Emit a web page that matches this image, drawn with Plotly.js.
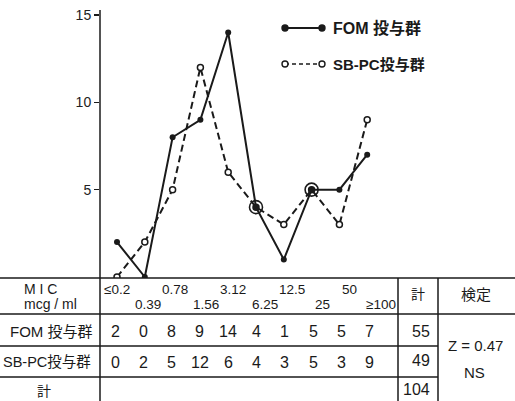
<!DOCTYPE html>
<html>
<head>
<meta charset="utf-8">
<script src="https://cdn.plot.ly/plotly-3.0.1.min.js"></script>
<style>html,body{margin:0;padding:0;background:#fff;}#chart{width:515px;height:401px;}</style>
</head>
<body>
<div id="chart"></div>
<script>
// ---- data ----
const categories = ['≤0.2','0.39','0.78','1.56','3.12','6.25','12.5','25','50','≥100'];
const fom  = [2,0,8,9,14,4,1,5,5,7];
const sbpc = [0,2,5,12,6,4,3,5,3,9];
const seriesNames = ['FOM 投与群','SB-PC投与群'];
const yTicks = [5,10,15];
const rowHeaderMIC = ['M I C','mcg / ml'];
const totalLabel = '計';
const testLabel = '検定';
const testResult = ['Z = 0.47','NS'];

// ---- helpers (pixel -> paper) ----
const W = 515, H = 401;
const px = x => x / W;
const py = y => 1 - y / H;
const idx = categories.map((_, i) => i);
const sum = a => a.reduce((s, v) => s + v, 0);
const INK = '#1a1a1a';
const FONT = 'Liberation Sans, Arial, Noto Sans CJK JP, sans-serif';
const CJK = 'Noto Sans CJK JP, Liberation Sans, sans-serif';

const eqX = [], eqY = [];
idx.forEach(i => { if (fom[i] === sbpc[i]) { eqX.push(i); eqY.push(fom[i]); } });

const traces = [
  {x: idx, y: sbpc, type: 'scatter', mode: 'lines+markers', name: seriesNames[1],
   line: {color: INK, width: 2, dash: '7px,4px'},
   marker: {symbol: 'circle', size: 6, color: '#fff', line: {color: INK, width: 1.5}}},
  {x: idx, y: fom, type: 'scatter', mode: 'lines+markers', name: seriesNames[0],
   line: {color: INK, width: 2},
   marker: {symbol: 'circle', size: 6, color: INK}},
  {x: eqX, y: eqY, type: 'scatter', mode: 'markers', showlegend: false, hoverinfo: 'skip',
   marker: {symbol: 'circle-open', size: 13, color: INK, line: {color: INK, width: 1.6}}}
];

const shapes = [];
const line = (x0, y0, x1, y1, extra) => shapes.push(Object.assign(
  {type: 'line', xref: 'paper', yref: 'paper', x0: px(x0), y0: py(y0), x1: px(x1), y1: py(y1),
   line: {color: INK, width: 1.5}}, extra || {}));
// y axis line running through table
line(100, 10, 100, 401);
// table lines
line(0, 278, 515, 278);
line(0, 314, 515, 314);
line(0, 346, 438, 346);
line(0, 377, 438, 377);
line(398, 278, 398, 401);
line(438, 278, 438, 401);
// legend
line(285, 28, 322, 28, {line: {color: INK, width: 2}});
line(285, 64, 322, 64, {line: {color: INK, width: 1.6, dash: '4px,3px'}});
const dot = (x, y, filled) => shapes.push({type: 'circle', xref: 'paper', yref: 'paper',
  xsizemode: 'pixel', ysizemode: 'pixel', xanchor: px(x), yanchor: py(y),
  x0: -3, x1: 3, y0: -3, y1: 3,
  fillcolor: filled ? INK : '#fff', line: {color: INK, width: 1.4}});
dot(285, 28, true); dot(322, 28, true);
dot(285, 64, false); dot(322, 64, false);

const ann = [];
const txt = (text, x, y, opts) => ann.push(Object.assign({
  text: text, xref: 'paper', yref: 'paper', x: px(x), y: py(y),
  xanchor: 'center', yanchor: 'middle', showarrow: false,
  font: {family: FONT, size: 15, color: INK}}, opts || {}));
// legend labels
txt(seriesNames[0], 331, 28, {xanchor: 'left', font: {family: 'Liberation Sans, Noto Sans CJK JP', size: 16, color: INK, weight: 'bold'}});
txt(seriesNames[1], 331, 64, {xanchor: 'left', font: {family: 'Liberation Sans, Noto Sans CJK JP', size: 15, color: INK, weight: 'bold'}});
// header
txt(rowHeaderMIC[0], 22, 289, {xanchor: 'left', font: {family: FONT, size: 14, color: INK}});
txt(rowHeaderMIC[1], 22, 304, {xanchor: 'left', font: {family: FONT, size: 14, color: INK}});
categories.forEach((c, i) => {
  ann.push({text: c, xref: 'x', yref: 'paper', x: i, y: py(i % 2 === 0 ? 289 : 304),
    xanchor: 'center', yanchor: 'middle', showarrow: false, xshift: i * 1.3 + (i % 2 ? 2 : 0),
    font: {family: FONT, size: 13.5, color: INK}});
});
txt(totalLabel, 418, 293, {font: {family: CJK, size: 14, color: INK}});
txt(testLabel, 476, 293, {font: {family: CJK, size: 15, color: INK}});
// rows
txt(seriesNames[0], 8, 331, {xanchor: 'left', font: {family: FONT, size: 15, color: INK}});
txt(seriesNames[1], 1, 362, {xanchor: 'left', font: {family: FONT, size: 14.5, color: INK}});
txt(totalLabel, 44, 390, {font: {family: CJK, size: 14, color: INK}});
[fom, sbpc].forEach((arr, r) => {
  arr.forEach((v, i) => {
    ann.push({text: String(v), xref: 'x', yref: 'paper', x: i, y: py(r === 0 ? 331 : 362),
      xanchor: 'center', yanchor: 'middle', showarrow: false, xshift: -2 + i * 0.5,
      font: {family: FONT, size: 16, color: INK}});
  });
});
txt(String(sum(fom)), 421, 331, {font: {family: FONT, size: 16, color: INK}});
txt(String(sum(sbpc)), 421, 360, {font: {family: FONT, size: 16, color: INK}});
txt(String(sum(fom) + sum(sbpc)), 416, 389, {font: {family: FONT, size: 16, color: INK}});
txt(testResult[0], 475, 345, {font: {family: FONT, size: 15, color: INK}});
txt(testResult[1], 474, 372, {font: {family: FONT, size: 15, color: INK}});

const x0px = 117, dxpx = 27.8;
const zeroPx = 277, unitPx = (277 - 15) / 15;
const layout = {
  width: W, height: H,
  margin: {l: 0, r: 0, t: 0, b: 0, pad: 0},
  paper_bgcolor: '#fff', plot_bgcolor: 'rgba(0,0,0,0)',
  showlegend: false,
  xaxis: {domain: [px(100), 1], range: [(100 - x0px) / dxpx, (W - x0px) / dxpx],
    visible: false, fixedrange: true},
  yaxis: {domain: [py(278), 1], range: [(zeroPx - 278) / unitPx, zeroPx / unitPx],
    tickvals: yTicks, ticktext: yTicks.map(String), ticks: 'outside', ticklen: 5,
    tickwidth: 1.5, tickcolor: INK, showgrid: false, zeroline: false, showline: false,
    tickfont: {family: FONT, size: 14, color: '#222'}, fixedrange: true},
  shapes: shapes,
  annotations: ann
};
Plotly.newPlot('chart', traces, layout, {displayModeBar: false, staticPlot: true});
</script>
</body>
</html>
